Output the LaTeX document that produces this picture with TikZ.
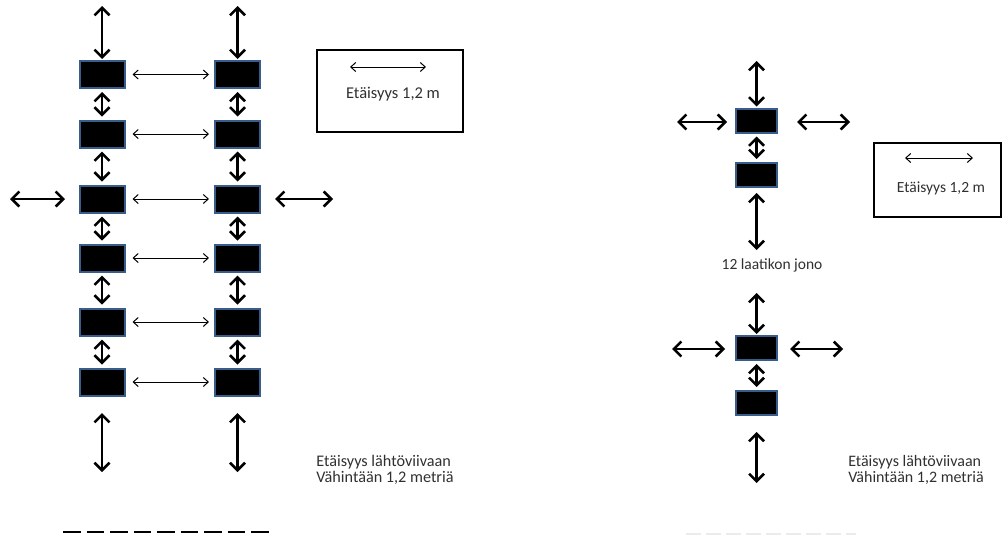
\documentclass[tikz,border=0pt]{standalone}
\usepackage{fontspec}
\setmainfont{Carlito}
\usetikzlibrary{arrows.meta}
\definecolor{boxedge}{HTML}{385D8A}
\definecolor{txt}{HTML}{303030}
\begin{document}
\begin{tikzpicture}[x=1pt,y=-1pt,
  blk/.style={rectangle,fill=black,draw=boxedge,line width=2pt,inner sep=0pt,minimum width=45pt,minimum height=27pt},
  blks/.style={blk,minimum width=41pt,minimum height=24pt},
  bigarr/.style={line width=2.5pt,{Straight Barb[length=7.5pt,width=15pt]}-{Straight Barb[length=7.5pt,width=15pt]}},
  thinarr/.style={line width=1pt,{Straight Barb[length=5pt,width=9pt]}-{Straight Barb[length=5pt,width=9pt]}},
  lab/.style={text=txt,inner sep=0pt,font=\fontsize{16.5}{17}\selectfont},
  labs/.style={text=txt,inner sep=0pt,font=\fontsize{16.2}{16.5}\selectfont,align=left},
  legend/.style={draw=black,line width=1.6pt}]
\useasboundingbox (0,0) rectangle (1003,538);

% left panel: two columns of six boxes
\foreach \i/\y in {1/74.5,2/134,3/199,4/258,5/322,6/382}{
  \node[blk] (L\i) at (102,\y) {};
  \node[blk] (R\i) at (237.5,\y) {};
  \draw[thinarr,shorten <=7pt,shorten >=5pt] (L\i.east) -- (R\i.west);
}
\foreach \i/\j in {1/2,2/3,3/4,4/5,5/6}{
  \draw[bigarr,shorten <=3pt,shorten >=3pt] (L\i.south) -- (L\j.north);
  \draw[bigarr,shorten <=3pt,shorten >=3pt] (R\i.south) -- (R\j.north);
}
\coordinate (LT) at (102,6);
\coordinate (RT) at (237.5,6);
\draw[bigarr,shorten >=1pt] (LT) -- (L1.north);
\draw[bigarr,shorten >=1pt] (RT) -- (R1.north);
\coordinate (LB1) at (102,413); \coordinate (LB2) at (102,472);
\coordinate (RB1) at (237.5,413); \coordinate (RB2) at (237.5,472);
\draw[bigarr] (LB1) -- (LB2);
\draw[bigarr] (RB1) -- (RB2);
\coordinate (LS1) at (10,199); \coordinate (LS2) at (65,199);
\coordinate (RS1) at (275,199); \coordinate (RS2) at (333,199);
\draw[bigarr] (LS1) -- (LS2);
\draw[bigarr] (RS1) -- (RS2);

% start line
\coordinate (D1) at (63,532); \coordinate (D2) at (269,532);
\draw[line width=2pt,dash pattern=on 17.5pt off 6pt] (D1) -- (D2);

% legend box left
\node[legend,minimum width=146pt,minimum height=82pt,inner sep=0pt] (LEG1) at (390,91) {};
\coordinate (LA1) at (350,67); \coordinate (LA2) at (426,67);
\draw[thinarr] (LA1) -- (LA2);
\node[lab] (LEGT1) at (393,94) {Etäisyys 1,2 m};

\node[labs] (DIST1) at (385,470) {Etäisyys lähtöviivaan\\Vähintään 1,2 metriä};

% right panel
\node[blks] (A1) at (756.5,120.5) {};
\node[blks] (A2) at (756.5,175) {};
\coordinate (AT) at (756.5,61);
\draw[bigarr,shorten >=1pt] (AT) -- (A1.north);
\draw[bigarr,shorten <=3pt,shorten >=3pt] (A1.south) -- (A2.north);
\coordinate (AL1) at (677,122); \coordinate (AL2) at (727,122);
\coordinate (AR1) at (797,122); \coordinate (AR2) at (850,122);
\draw[bigarr] (AL1) -- (AL2);
\draw[bigarr] (AR1) -- (AR2);
\coordinate (AB1) at (756.5,193); \coordinate (AB2) at (756.5,250);
\draw[bigarr] (AB1) -- (AB2);

\node[lab,font=\fontsize{15.5}{16}\selectfont] (Q) at (772,265) {12 laatikon jono};

\node[blks] (B1) at (756.5,348) {};
\node[blks] (B2) at (756.5,403) {};
\coordinate (BT) at (756.5,293);
\draw[bigarr,shorten >=1pt] (BT) -- (B1.north);
\draw[bigarr,shorten <=3pt,shorten >=3pt] (B1.south) -- (B2.north);
\coordinate (BL1) at (672,349); \coordinate (BL2) at (725,349);
\coordinate (BR1) at (790,349); \coordinate (BR2) at (843,349);
\draw[bigarr] (BL1) -- (BL2);
\draw[bigarr] (BR1) -- (BR2);
\coordinate (BB1) at (756.5,432); \coordinate (BB2) at (756.5,483);
\draw[bigarr] (BB1) -- (BB2);

% legend box right
\node[legend,minimum width=127pt,minimum height=74pt,inner sep=0pt] (LEG2) at (937.5,180) {};
\coordinate (RA1) at (905,158); \coordinate (RA2) at (973,158);
\draw[thinarr] (RA1) -- (RA2);
\node[lab,font=\fontsize{15.5}{16}\selectfont] (LEGT2) at (941,188) {Etäisyys 1,2 m};

\node[labs,font=\fontsize{16}{16.5}\selectfont] (DIST2) at (916,470) {Etäisyys lähtöviivaan\\Vähintään 1,2 metriä};

% faint start line right
\coordinate (E1) at (686,534); \coordinate (E2) at (856,534);
\draw[black!8,line width=1.5pt,dash pattern=on 15pt off 5pt] (E1) -- (E2);
\end{tikzpicture}
\end{document}
